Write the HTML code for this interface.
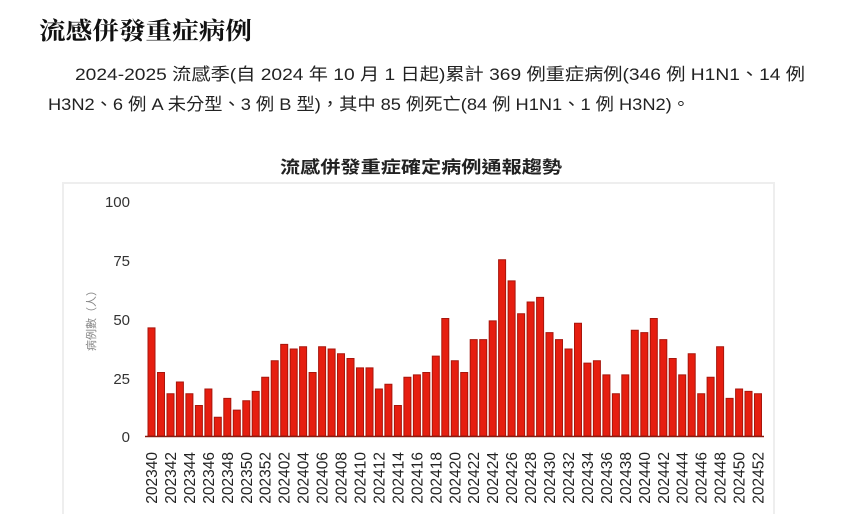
<!DOCTYPE html>
<html><head><meta charset="utf-8"><style>
html,body{margin:0;padding:0;background:#fff;width:850px;height:514px;overflow:hidden}
svg{display:block}
</style></head><body>
<svg width="850" height="514" xmlns="http://www.w3.org/2000/svg" font-family="Liberation Sans, Noto Sans CJK TC, sans-serif">
<rect width="850" height="514" fill="#fff"/>
<text x="39" y="39" font-size="24" font-weight="bold" fill="#111" textLength="213" lengthAdjust="spacingAndGlyphs" font-family="Noto Serif CJK SC, Noto Sans CJK TC, serif">流感併發重症病例</text>
<text x="75" y="80" font-size="17" fill="#222" textLength="730" lengthAdjust="spacingAndGlyphs">2024-2025 流感季(自 2024 年 10 月 1 日起)累計 369 例重症病例(346 例 H1N1、14 例</text>
<text x="48" y="110" font-size="17" fill="#222" textLength="642" lengthAdjust="spacingAndGlyphs">H3N2、6 例 A 未分型、3 例 B 型)，其中 85 例死亡(84 例 H1N1、1 例 H3N2)。</text>
<rect x="63" y="183" width="711" height="340" fill="#fff" stroke="#eee" stroke-width="2"/>
<text x="421" y="173" font-size="17" font-weight="bold" text-anchor="middle" fill="#222" textLength="282" lengthAdjust="spacingAndGlyphs">流感併發重症確定病例通報趨勢</text>
<g font-size="15" fill="#333" text-anchor="end">
<text x="130" y="207">100</text><text x="130" y="266">75</text><text x="130" y="325">50</text><text x="130" y="384">25</text><text x="130" y="442">0</text>
</g>
<text transform="translate(95,318) rotate(-90)" font-size="11" fill="#888" text-anchor="middle">病例數（人）</text>
<g transform="translate(0,436) scale(1,-2.35)" fill="#e61e10" stroke="#a8160c" stroke-width="1">
<rect vector-effect="non-scaling-stroke" x="148.0" y="0" width="7" height="46"/>
<rect vector-effect="non-scaling-stroke" x="157.5" y="0" width="7" height="27"/>
<rect vector-effect="non-scaling-stroke" x="167.0" y="0" width="7" height="18"/>
<rect vector-effect="non-scaling-stroke" x="176.4" y="0" width="7" height="23"/>
<rect vector-effect="non-scaling-stroke" x="185.9" y="0" width="7" height="18"/>
<rect vector-effect="non-scaling-stroke" x="195.4" y="0" width="7" height="13"/>
<rect vector-effect="non-scaling-stroke" x="204.9" y="0" width="7" height="20"/>
<rect vector-effect="non-scaling-stroke" x="214.3" y="0" width="7" height="8"/>
<rect vector-effect="non-scaling-stroke" x="223.8" y="0" width="7" height="16"/>
<rect vector-effect="non-scaling-stroke" x="233.3" y="0" width="7" height="11"/>
<rect vector-effect="non-scaling-stroke" x="242.8" y="0" width="7" height="15"/>
<rect vector-effect="non-scaling-stroke" x="252.2" y="0" width="7" height="19"/>
<rect vector-effect="non-scaling-stroke" x="261.7" y="0" width="7" height="25"/>
<rect vector-effect="non-scaling-stroke" x="271.2" y="0" width="7" height="32"/>
<rect vector-effect="non-scaling-stroke" x="280.7" y="0" width="7" height="39"/>
<rect vector-effect="non-scaling-stroke" x="290.2" y="0" width="7" height="37"/>
<rect vector-effect="non-scaling-stroke" x="299.6" y="0" width="7" height="38"/>
<rect vector-effect="non-scaling-stroke" x="309.1" y="0" width="7" height="27"/>
<rect vector-effect="non-scaling-stroke" x="318.6" y="0" width="7" height="38"/>
<rect vector-effect="non-scaling-stroke" x="328.1" y="0" width="7" height="37"/>
<rect vector-effect="non-scaling-stroke" x="337.5" y="0" width="7" height="35"/>
<rect vector-effect="non-scaling-stroke" x="347.0" y="0" width="7" height="33"/>
<rect vector-effect="non-scaling-stroke" x="356.5" y="0" width="7" height="29"/>
<rect vector-effect="non-scaling-stroke" x="366.0" y="0" width="7" height="29"/>
<rect vector-effect="non-scaling-stroke" x="375.4" y="0" width="7" height="20"/>
<rect vector-effect="non-scaling-stroke" x="384.9" y="0" width="7" height="22"/>
<rect vector-effect="non-scaling-stroke" x="394.4" y="0" width="7" height="13"/>
<rect vector-effect="non-scaling-stroke" x="403.9" y="0" width="7" height="25"/>
<rect vector-effect="non-scaling-stroke" x="413.4" y="0" width="7" height="26"/>
<rect vector-effect="non-scaling-stroke" x="422.8" y="0" width="7" height="27"/>
<rect vector-effect="non-scaling-stroke" x="432.3" y="0" width="7" height="34"/>
<rect vector-effect="non-scaling-stroke" x="441.8" y="0" width="7" height="50"/>
<rect vector-effect="non-scaling-stroke" x="451.3" y="0" width="7" height="32"/>
<rect vector-effect="non-scaling-stroke" x="460.7" y="0" width="7" height="27"/>
<rect vector-effect="non-scaling-stroke" x="470.2" y="0" width="7" height="41"/>
<rect vector-effect="non-scaling-stroke" x="479.7" y="0" width="7" height="41"/>
<rect vector-effect="non-scaling-stroke" x="489.2" y="0" width="7" height="49"/>
<rect vector-effect="non-scaling-stroke" x="498.6" y="0" width="7" height="75"/>
<rect vector-effect="non-scaling-stroke" x="508.1" y="0" width="7" height="66"/>
<rect vector-effect="non-scaling-stroke" x="517.6" y="0" width="7" height="52"/>
<rect vector-effect="non-scaling-stroke" x="527.1" y="0" width="7" height="57"/>
<rect vector-effect="non-scaling-stroke" x="536.6" y="0" width="7" height="59"/>
<rect vector-effect="non-scaling-stroke" x="546.0" y="0" width="7" height="44"/>
<rect vector-effect="non-scaling-stroke" x="555.5" y="0" width="7" height="41"/>
<rect vector-effect="non-scaling-stroke" x="565.0" y="0" width="7" height="37"/>
<rect vector-effect="non-scaling-stroke" x="574.5" y="0" width="7" height="48"/>
<rect vector-effect="non-scaling-stroke" x="583.9" y="0" width="7" height="31"/>
<rect vector-effect="non-scaling-stroke" x="593.4" y="0" width="7" height="32"/>
<rect vector-effect="non-scaling-stroke" x="602.9" y="0" width="7" height="26"/>
<rect vector-effect="non-scaling-stroke" x="612.4" y="0" width="7" height="18"/>
<rect vector-effect="non-scaling-stroke" x="621.8" y="0" width="7" height="26"/>
<rect vector-effect="non-scaling-stroke" x="631.3" y="0" width="7" height="45"/>
<rect vector-effect="non-scaling-stroke" x="640.8" y="0" width="7" height="44"/>
<rect vector-effect="non-scaling-stroke" x="650.3" y="0" width="7" height="50"/>
<rect vector-effect="non-scaling-stroke" x="659.8" y="0" width="7" height="41"/>
<rect vector-effect="non-scaling-stroke" x="669.2" y="0" width="7" height="33"/>
<rect vector-effect="non-scaling-stroke" x="678.7" y="0" width="7" height="26"/>
<rect vector-effect="non-scaling-stroke" x="688.2" y="0" width="7" height="35"/>
<rect vector-effect="non-scaling-stroke" x="697.7" y="0" width="7" height="18"/>
<rect vector-effect="non-scaling-stroke" x="707.1" y="0" width="7" height="25"/>
<rect vector-effect="non-scaling-stroke" x="716.6" y="0" width="7" height="38"/>
<rect vector-effect="non-scaling-stroke" x="726.1" y="0" width="7" height="16"/>
<rect vector-effect="non-scaling-stroke" x="735.6" y="0" width="7" height="20"/>
<rect vector-effect="non-scaling-stroke" x="745.0" y="0" width="7" height="19"/>
<rect vector-effect="non-scaling-stroke" x="754.5" y="0" width="7" height="18"/>
</g>
<line x1="145" y1="436.5" x2="764" y2="436.5" stroke="#8a1a10" stroke-width="1.5"/>
<g font-size="15.5" fill="#222" text-anchor="end">
<text transform="translate(157,452) rotate(-90)">202340</text>
<text transform="translate(176,452) rotate(-90)">202342</text>
<text transform="translate(195,452) rotate(-90)">202344</text>
<text transform="translate(214,452) rotate(-90)">202346</text>
<text transform="translate(233,452) rotate(-90)">202348</text>
<text transform="translate(251.8,452) rotate(-90)">202350</text>
<text transform="translate(270.7,452) rotate(-90)">202352</text>
<text transform="translate(289.7,452) rotate(-90)">202402</text>
<text transform="translate(308.6,452) rotate(-90)">202404</text>
<text transform="translate(327.6,452) rotate(-90)">202406</text>
<text transform="translate(346.5,452) rotate(-90)">202408</text>
<text transform="translate(365.5,452) rotate(-90)">202410</text>
<text transform="translate(384.4,452) rotate(-90)">202412</text>
<text transform="translate(403.4,452) rotate(-90)">202414</text>
<text transform="translate(422.4,452) rotate(-90)">202416</text>
<text transform="translate(441.3,452) rotate(-90)">202418</text>
<text transform="translate(460.3,452) rotate(-90)">202420</text>
<text transform="translate(479.2,452) rotate(-90)">202422</text>
<text transform="translate(498.2,452) rotate(-90)">202424</text>
<text transform="translate(517.1,452) rotate(-90)">202426</text>
<text transform="translate(536.1,452) rotate(-90)">202428</text>
<text transform="translate(555,452) rotate(-90)">202430</text>
<text transform="translate(574,452) rotate(-90)">202432</text>
<text transform="translate(592.9,452) rotate(-90)">202434</text>
<text transform="translate(611.9,452) rotate(-90)">202436</text>
<text transform="translate(630.8,452) rotate(-90)">202438</text>
<text transform="translate(649.8,452) rotate(-90)">202440</text>
<text transform="translate(668.8,452) rotate(-90)">202442</text>
<text transform="translate(687.7,452) rotate(-90)">202444</text>
<text transform="translate(706.7,452) rotate(-90)">202446</text>
<text transform="translate(725.6,452) rotate(-90)">202448</text>
<text transform="translate(744.6,452) rotate(-90)">202450</text>
<text transform="translate(763.5,452) rotate(-90)">202452</text>
</g>
</svg>
</body></html>
